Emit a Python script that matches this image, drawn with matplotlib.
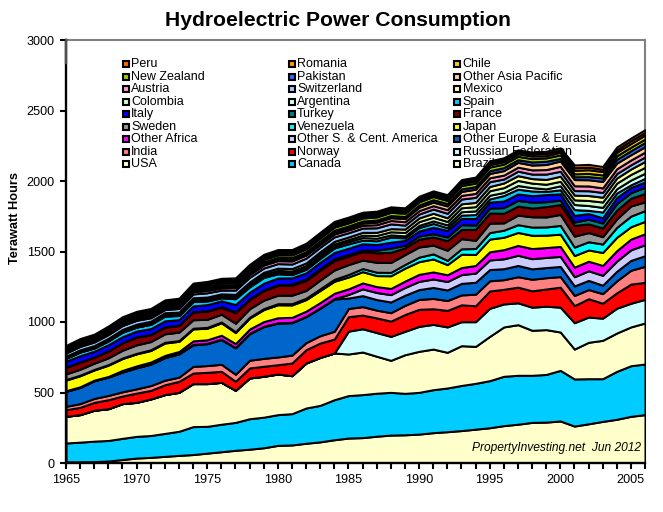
#!/usr/bin/env python3

import matplotlib
matplotlib.use('Agg')
import matplotlib.pyplot as plt
from matplotlib.patches import Rectangle
import numpy as np

plt.rcParams['font.family'] = ['Liberation Sans', 'DejaVu Sans']

# ----- data, TWh per year, bottom of the stack first ------
years = list(range(1965, 2007))

brazil = [8,9,10,14,25,35,40,47,54,60,70,80,90,98,108,125,128,140,150,165,177,180,190,198,200,205,215,222,230,240,250,265,275,288,290,298,262,278,295,310,331,343]
canada = [134,139,145,146,150,154,155,163,171,198,190,195,198,216,217,218,222,250,259,284,301,305,305,303,294,296,305,310,320,325,334,350,347,334,338,359,334,320,303,340,359,359]
usa = [189,195,219,225,246,241,259,275,276,305,303,297,227,289,290,288,269,319,340,331,295,302,262,227,274,291,288,253,282,262,314,350,359,319,318,272,212,258,272,272,275,291]
russia = [0,0,0,0,0,0,0,0,0,0,0,0,0,0,0,0,0,0,0,0,162,165,168,170,166,177,175,180,170,175,199,163,155,164,166,176,187,179,157,176,168,168]
norway = [47,52,56,64,54,66,61,70,78,75,80,78,64,71,71,66,90,95,102,99,103,97,104,108,119,121,111,117,120,113,123,104,111,116,122,142,121,130,106,109,136,120]
india = [24,26,28,30,30,30,34,32,30,47,48,50,50,55,56,55,56,50,52,55,58,60,55,60,65,70,73,70,70,82,72,68,74,82,80,75,72,65,68,85,98,114]
other_europe = [106,115,125,130,140,149,152,160,165,153,155,175,187,188,225,240,230,184,195,229,74,78,75,76,72,70,78,75,82,85,80,78,80,74,72,72,68,65,60,68,70,75]
other_sca = [2,2,2,2,2,2,2,2,2,3,3,3,3,3,3,3,3,3,3,3,25,48,50,52,55,58,60,60,62,65,68,70,72,72,72,71,65,68,70,72,75,78]
other_africa = [3,3,3,3,10,12,13,14,15,25,25,28,28,30,33,35,35,36,37,38,40,42,42,44,45,50,50,48,50,54,58,65,70,72,70,71,68,68,70,74,76,78]
japan = [75,78,72,80,84,85,82,88,72,85,82,88,78,78,85,92,88,82,86,85,84,80,78,90,92,90,92,72,95,78,90,88,92,94,88,87,82,80,92,95,88,88]
venezuela = [4,4,4,4,4,4,5,5,5,5,6,6,6,6,7,8,9,10,12,14,18,22,24,24,26,32,36,30,38,42,46,50,55,58,58,62,60,58,60,70,75,76]
sweden = [40,42,44,48,55,60,58,60,60,60,57,55,60,60,60,60,60,55,62,66,70,60,70,70,70,72,62,72,72,58,67,52,68,73,71,78,78,65,52,60,72,62]
france = [46,50,42,48,52,55,48,47,47,55,58,48,75,65,67,69,71,70,70,66,60,60,68,72,48,55,58,68,65,78,72,68,64,62,73,70,76,62,62,63,55,60]
turkey = [2,2,2,2,2,2,3,3,3,3,3,6,6,6,6,6,8,12,12,14,12,12,18,30,18,23,23,26,34,30,35,40,40,42,35,31,24,33,35,46,39,44]
italy = [42,44,41,43,42,41,41,42,39,40,43,41,52,46,47,47,44,42,44,44,44,44,40,42,34,35,46,46,44,47,42,47,46,46,50,45,47,40,37,43,37,37]
spain = [20,26,23,27,32,28,30,34,29,31,26,21,41,38,41,30,23,26,28,32,31,26,27,36,19,25,27,20,24,28,23,39,34,33,23,29,41,23,41,32,19,26]
argentina = [1,1,1,1,1,1,2,2,2,3,4,4,6,8,10,12,13,14,15,15,16,18,18,16,14,16,18,20,24,26,26,22,26,24,18,28,36,34,33,30,34,36]
colombia = [5,5,5,6,7,8,8,9,9,10,10,11,11,12,12,12,13,13,14,14,15,17,20,22,24,26,26,24,28,30,32,34,36,32,33,32,33,36,38,40,40,42]
mexico = [10,10,11,12,12,12,13,13,13,14,14,14,14,15,15,16,17,18,18,18,18,20,22,22,24,26,28,26,28,30,30,33,34,32,34,36,34,35,34,36,38,42]
switzerland = [22,24,25,26,27,27,24,22,26,27,30,26,30,33,30,32,32,34,32,32,30,30,32,34,28,28,30,32,34,36,34,28,32,32,38,35,32,34,34,32,30,32]
austria = [12,13,13,14,14,14,13,13,14,16,17,16,18,20,21,21,22,22,20,20,20,20,22,24,24,24,24,26,26,28,28,28,28,30,32,35,34,34,32,34,34,34]
other_asia = [6,6,6,7,7,7,8,8,8,9,9,10,10,10,11,11,12,12,13,14,15,16,18,20,22,24,25,26,28,30,30,32,34,34,36,38,44,44,46,40,38,38]
pakistan = [7,7,7,8,8,8,8,9,9,9,10,10,10,11,11,12,12,12,12,13,13,14,15,15,15,16,17,17,18,18,20,21,19,22,23,18,20,22,24,27,28,30]
new_zealand = [8,9,9,10,10,11,12,12,13,13,14,15,15,16,17,18,19,20,21,22,22,22,22,23,23,23,23,22,24,25,26,25,24,24,24,25,21,23,22,25,25,25]
chile = [7,7,7,8,8,8,8,8,9,9,9,9,10,10,11,12,12,13,13,14,14,14,14,12,12,12,13,14,15,16,17,17,18,18,16,19,25,26,24,24,26,28]
romania = [6,6,6,6,7,7,8,9,10,11,12,13,13,14,14,14,14,14,14,14,14,14,14,14,14,14,14,14,14,14,14,15,15,15,16,15,18,18,16,18,20,18]
peru = [8,8,8,8,9,9,9,10,10,10,10,11,11,11,12,12,12,13,13,13,13,13,13,13,13,13,13,13,13,13,13,13,13,13,15,16,20,20,20,20,19,20]

stack = [brazil, canada, usa, russia, norway, india, other_europe, other_sca, other_africa,
         japan, venezuela, sweden, france, turkey, italy, spain, argentina, colombia, mexico,
         switzerland, austria, other_asia, pakistan, new_zealand, chile, romania, peru]
names = ['Brazil', 'Canada', 'USA', 'Russian Federation', 'Norway', 'India', 'Other Europe & Eurasia',
         'Other S. & Cent. America', 'Other Africa', 'Japan', 'Venezuela', 'Sweden', 'France', 'Turkey',
         'Italy', 'Spain', 'Argentina', 'Colombia', 'Mexico', 'Switzerland', 'Austria',
         'Other Asia Pacific', 'Pakistan', 'New Zealand', 'Chile', 'Romania', 'Peru']
colors = ['#FFFFCC', '#00CCFF', '#FFFFCC', '#CCFFFF', '#FF0000', '#FF8080', '#0066CC', '#CCCCFF', '#FF00FF',
          '#FFFF00', '#00FFFF', '#969696', '#800000', '#008080', '#0000FF', '#00CCFF', '#CCFFFF', '#CCFFCC',
          '#FFFF99', '#99CCFF', '#FF99CC', '#FFCC99', '#3366FF', '#99CC00', '#FFCC00', '#FF9900', '#FF6600']

W, H = 663, 512
fig = plt.figure(figsize=(W/100, H/100), dpi=100, facecolor='w')
ax = fig.add_axes([66/W, 1-463/H, (645-66)/W, (463-40)/H])

polys = ax.stackplot(years, np.array(stack), colors=colors, edgecolor='k', linewidth=1.45,
                     antialiased=False, zorder=2)

ax.set_xlim(1965, 2006)
ax.set_ylim(0, 3000)
ax.set_yticks(range(0, 3001, 500))
ax.set_xticks(range(1965, 2006, 5))
ax.set_xticks(years, minor=True)
ax.tick_params(axis='both', which='major', length=4, width=1.5, labelsize=9.1, pad=4)
ax.tick_params(axis='x', which='minor', length=4, width=1.5)

for side in ['left', 'bottom']:
    ax.spines[side].set_linewidth(1.7)
    ax.spines[side].set_color('k')
for side in ['top', 'right']:
    ax.spines[side].set_linewidth(1.5)
    ax.spines[side].set_color('#808080')
    ax.spines[side].set_zorder(1)

# the left axis goes grey above the first tick
ax.plot([0, 0], [0.945, 1], color='#505050', lw=1.7, transform=ax.transAxes, clip_on=False, zorder=6)

fig.text(338/W, 1-21/H, 'Hydroelectric Power Consumption', fontsize=15.2, fontweight='bold',
         ha='center', va='center')
fig.text(15/W, 1-218/H, 'Terawatt Hours', fontsize=9.2, fontweight='bold', rotation=90,
         ha='center', va='center')
fig.text(641/W, 1-448/H, 'PropertyInvesting.net  Jun 2012', fontsize=8.65, style='italic',
         ha='right', va='center', zorder=8)

# ----- legend sits behind the areas, top of stack first, 3 across ------
col_x = [125.7, 291.7, 457.3]
for i in range(len(names)):
    n = len(names) - 1 - i
    x = col_x[i % 3]
    y = 64 + (i // 3) * 12.55
    ax.add_patch(Rectangle((x-3, H-y-3), 6, 6, transform=None, facecolor=colors[n], edgecolor='k',
                           linewidth=1.5, zorder=1, clip_on=False))
    ax.text((x+5.5)/W, 1-y/H, names[n], transform=fig.transFigure, fontsize=9, ha='left', va='center',
            zorder=1)

fig.savefig('out.png', dpi=100)
